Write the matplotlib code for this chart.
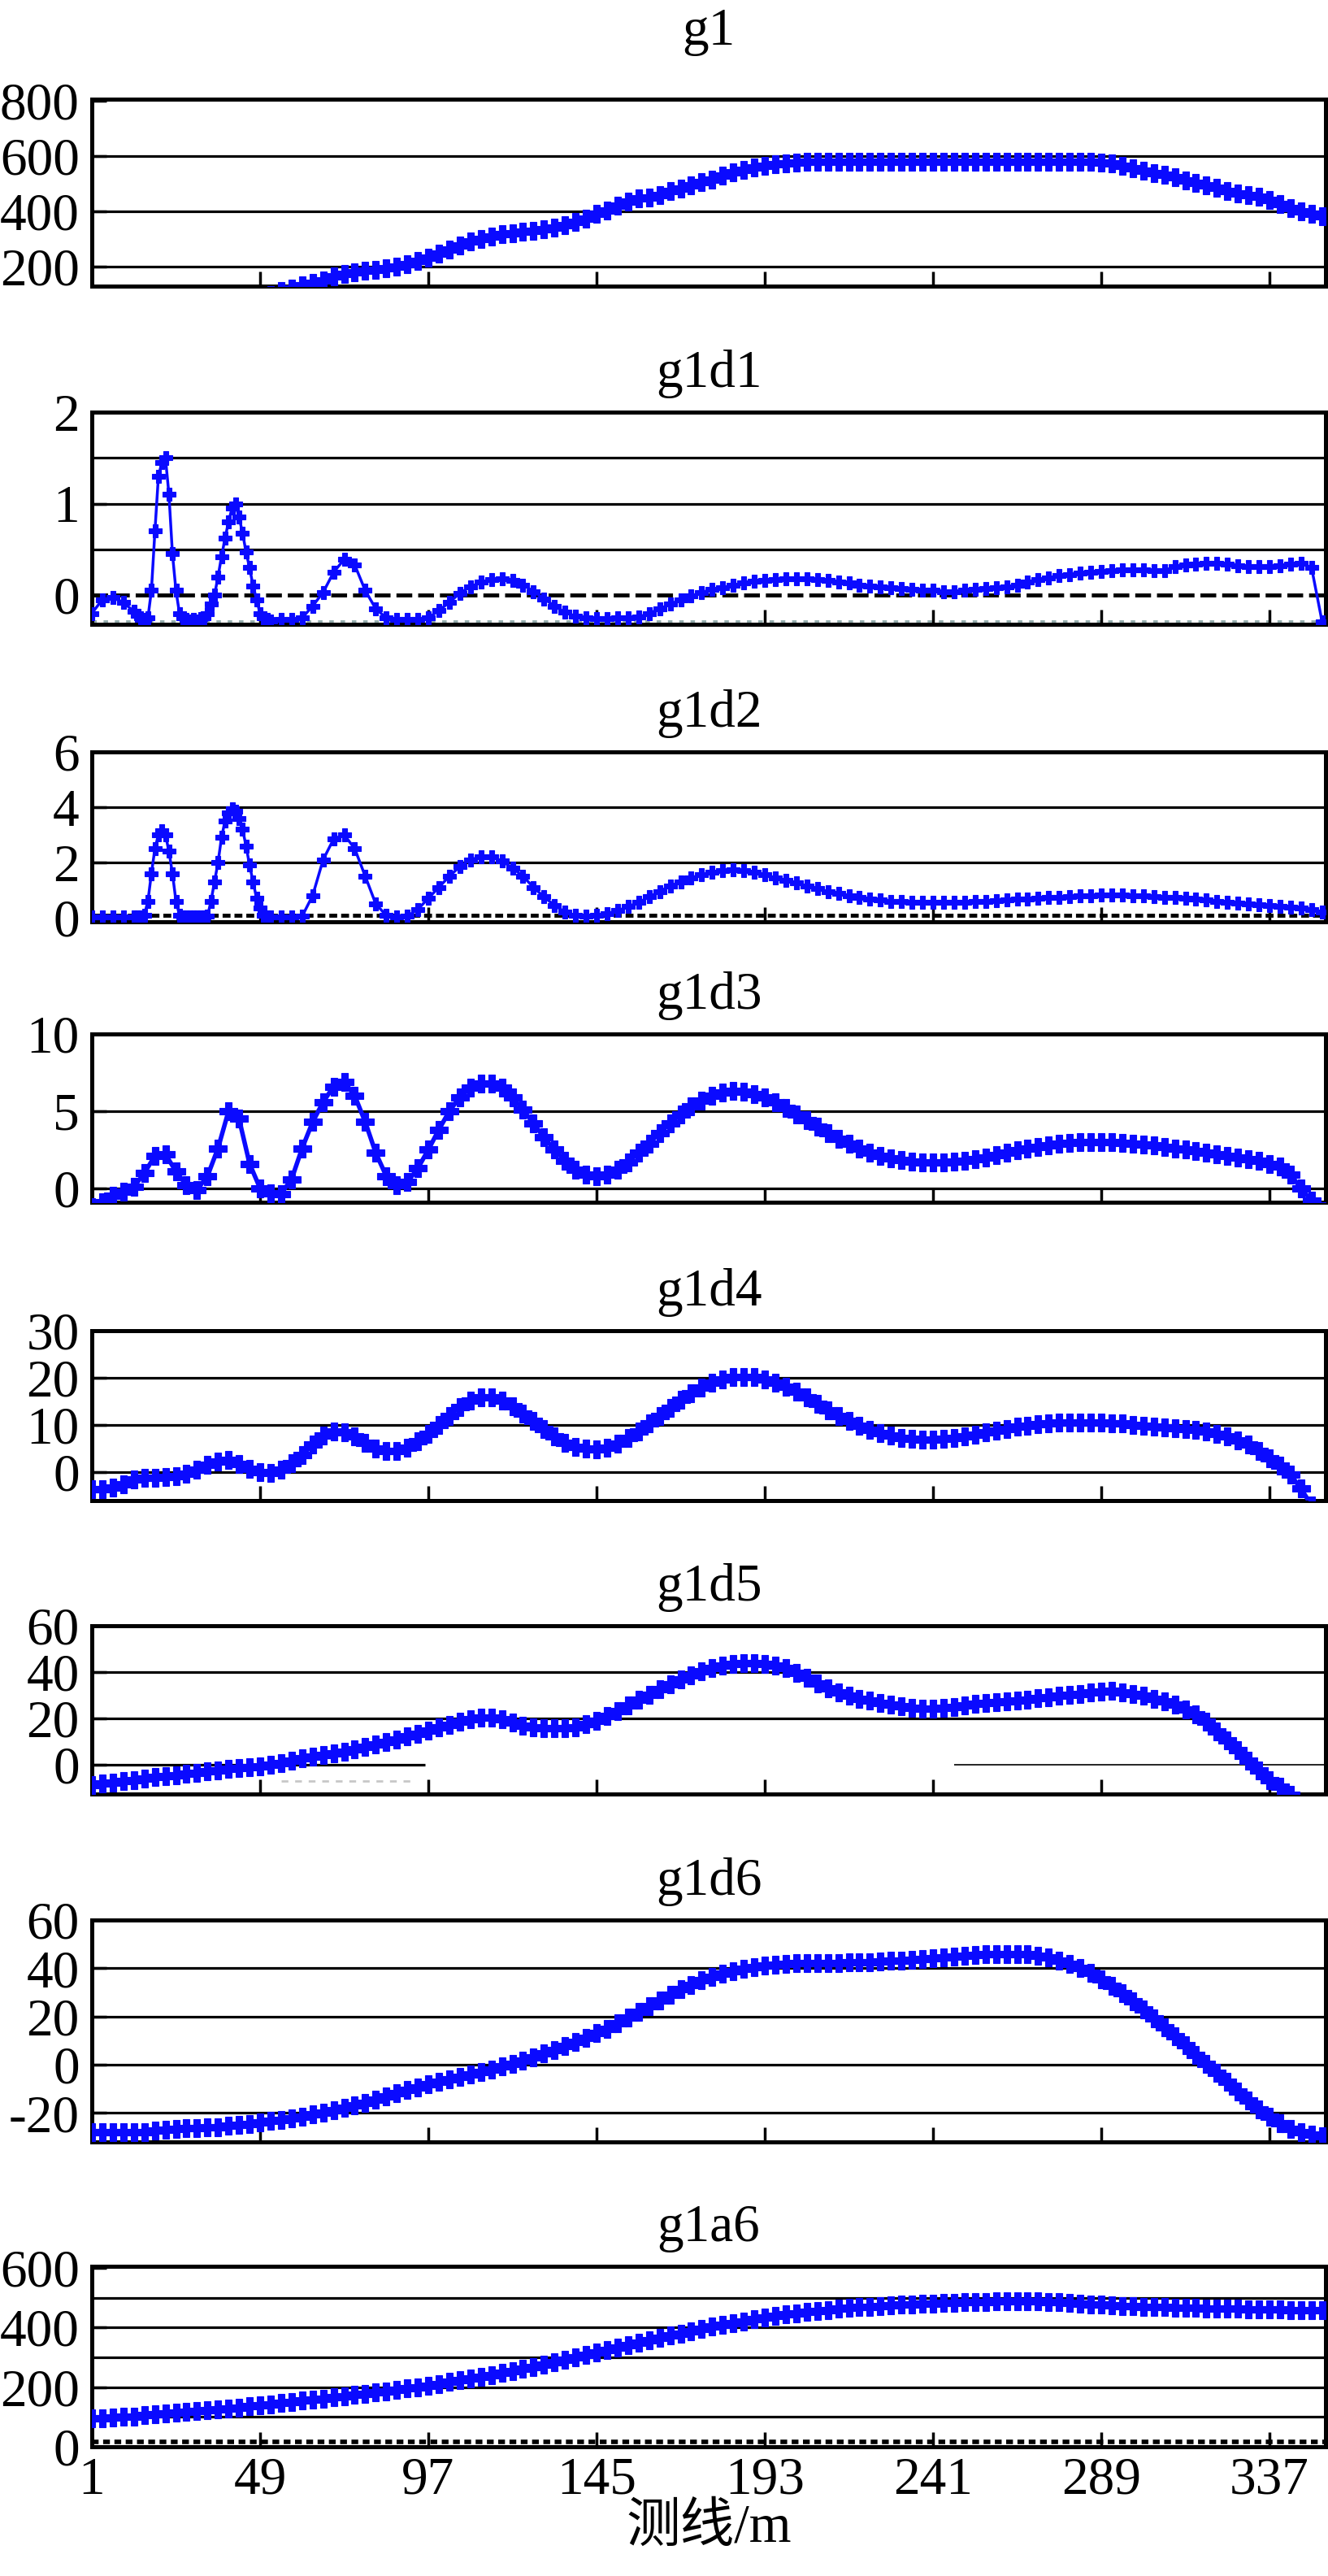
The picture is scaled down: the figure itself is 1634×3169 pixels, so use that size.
import numpy as np
import matplotlib
matplotlib.use('Agg')
import matplotlib.pyplot as plt

plt.rcParams['font.family'] = ['Liberation Serif', 'Noto Sans CJK SC']
plt.rcParams['axes.unicode_minus'] = False

# survey line positions (m)
x3 = list(range(1, 353, 3))
# finer sampling where the first two derivatives have sharp peaks
x_pk = list(range(1, 14, 3)) + list(range(14, 53)) + list(range(55, 353, 3))

g1 = [20, 24, 28, 32, 36, 40, 44, 48, 52, 56,
      60, 64, 68, 72, 76, 80, 85, 98, 112, 122,
      132, 142, 152, 165, 174, 180, 185, 190, 195, 200,
      208, 220, 233, 248, 263, 278, 290, 300, 309, 317,
      322, 327, 331, 336, 342, 350, 362, 375, 390, 404,
      420, 435, 447, 451, 460, 472, 483, 495, 505, 515,
      528, 540, 550, 558, 564, 570, 573, 576, 578, 579,
      579, 579, 579, 579, 579, 579, 579, 579, 579, 579,
      579, 579, 579, 579, 579, 579, 579, 579, 579, 579,
      579, 579, 579, 579, 579, 578, 576, 572, 564, 556,
      548, 539, 532, 522, 512, 502, 493, 484, 474, 465,
      458, 452, 440, 426, 412, 401, 392, 381]

g1d1 = [-0.2, -0.05, -0.03, -0.08, -0.18,
        -0.22, -0.25, -0.27, -0.25, 0.05, 0.7, 1.3, 1.45, 1.5, 1.1,
        0.45, 0.05, -0.2, -0.25, -0.27, -0.28, -0.27, -0.28, -0.26, -0.25,
        -0.2, -0.1, 0.0, 0.2, 0.42, 0.62, 0.8, 0.95, 1.0, 0.85,
        0.68, 0.47, 0.3, 0.1, -0.05, -0.2, -0.25, -0.27, -0.28,
        -0.27, -0.27, -0.25, -0.12, 0.03, 0.25, 0.39, 0.33, 0.05, -0.15,
        -0.25, -0.27, -0.27, -0.27, -0.25, -0.17, -0.08, 0.02, 0.09, 0.14,
        0.17, 0.18, 0.16, 0.11, 0.04, -0.04, -0.12, -0.19, -0.23, -0.25,
        -0.26, -0.26, -0.25, -0.25, -0.24, -0.2, -0.15, -0.1, -0.05, -0.01,
        0.03, 0.06, 0.08, 0.11, 0.13, 0.15, 0.16, 0.17, 0.18, 0.18,
        0.18, 0.17, 0.16, 0.14, 0.13, 0.11, 0.1, 0.09, 0.08, 0.07,
        0.06, 0.05, 0.05, 0.04, 0.04, 0.05, 0.06, 0.07, 0.08, 0.09,
        0.11, 0.14, 0.17, 0.19, 0.21, 0.22, 0.24, 0.25, 0.26, 0.27,
        0.28, 0.28, 0.28, 0.27, 0.27, 0.31, 0.33, 0.34, 0.35, 0.35,
        0.34, 0.32, 0.31, 0.31, 0.31, 0.32, 0.34, 0.35, 0.3, -0.29]

g1d2 = [0.02, 0.02, 0.02, 0.02, 0.02,
        0.02, 0.02, 0.1, 0.6, 1.6, 2.5, 3.0, 3.15, 3.0, 2.4,
        1.6, 0.6, 0.1, 0.02, 0.02, 0.02, 0.02, 0.02, 0.02, 0.02,
        0.05, 0.6, 1.3, 2.0, 2.9, 3.5, 3.8, 3.95, 3.85, 3.6,
        3.2, 2.6, 1.9, 1.3, 0.7, 0.35, 0.08, 0.02, 0.02,
        0.02, 0.02, 0.05, 0.8, 2.1, 2.85, 3.0, 2.5, 1.5, 0.5,
        0.08, 0.02, 0.05, 0.3, 0.7, 1.1, 1.5, 1.85, 2.1, 2.2,
        2.2, 2.05, 1.8, 1.5, 1.1, 0.75, 0.45, 0.2, 0.08, 0.05,
        0.08, 0.15, 0.25, 0.4, 0.55, 0.75, 0.95, 1.15, 1.3, 1.45,
        1.55, 1.65, 1.7, 1.72, 1.7, 1.65, 1.55, 1.45, 1.35, 1.25,
        1.15, 1.05, 0.95, 0.88, 0.8, 0.73, 0.68, 0.64, 0.6, 0.58,
        0.56, 0.55, 0.55, 0.55, 0.56, 0.57, 0.58, 0.6, 0.62, 0.64,
        0.66, 0.68, 0.7, 0.72, 0.74, 0.76, 0.78, 0.8, 0.82, 0.82,
        0.81, 0.8, 0.78, 0.76, 0.74, 0.72, 0.7, 0.67, 0.64, 0.6,
        0.57, 0.53, 0.5, 0.47, 0.44, 0.41, 0.38, 0.35, 0.3, 0.2]

g1d3 = [-1.2, -0.9, -0.5, -0.2, 0.1, 1.0, 2.1, 2.2, 1.1, 0.2,
        -0.1, 0.8, 2.6, 5.0, 4.5, 1.6, 0.0, -0.3, -0.35, 0.6,
        2.6, 4.3, 5.6, 6.6, 6.9, 6.0, 4.3, 2.3, 0.8, 0.2,
        0.4, 1.3, 2.5, 3.8, 5.0, 5.9, 6.5, 6.8, 6.8, 6.5,
        5.9, 5.1, 4.2, 3.3, 2.5, 1.8, 1.2, 0.9, 0.8, 0.9,
        1.2, 1.7, 2.3, 2.9, 3.6, 4.2, 4.8, 5.3, 5.7, 6.0,
        6.2, 6.3, 6.25, 6.1, 5.9, 5.6, 5.2, 4.8, 4.4, 4.0,
        3.6, 3.2, 2.9, 2.6, 2.3, 2.1, 1.95, 1.85, 1.75, 1.7,
        1.7, 1.7, 1.75, 1.8, 1.9, 2.0, 2.15, 2.3, 2.45, 2.6,
        2.7, 2.8, 2.9, 2.95, 3.0, 3.0, 3.0, 3.0, 2.95, 2.9,
        2.85, 2.8, 2.7, 2.6, 2.5, 2.4, 2.3, 2.2, 2.1, 2.0,
        1.9, 1.8, 1.6, 1.4, 0.9, 0.0, -0.8, -1.5]

g1d4 = [-3.6, -3.6, -3.3, -2.5, -1.5, -1.2, -1.1, -1.0, -0.8, -0.4,
        0.5, 1.5, 2.3, 2.6, 1.8, 0.8, 0.0, -0.2, 0.6, 2.0,
        3.6, 5.8, 7.8, 8.6, 8.5, 7.6, 6.3, 5.1, 4.5, 4.5,
        5.2, 6.5, 8.2, 10.0, 12.0, 13.8, 15.2, 15.9, 15.9, 15.2,
        14.0, 12.5, 10.8, 9.1, 7.6, 6.3, 5.4, 5.0, 4.9, 5.2,
        6.0, 7.2, 8.7, 10.3, 12.0, 13.7, 15.3, 16.8, 18.0, 19.0,
        19.7, 20.1, 20.2, 20.1, 19.7, 19.0, 18.1, 17.0, 15.8, 14.5,
        13.2, 12.0, 10.9, 9.9, 9.0, 8.3, 7.7, 7.3, 7.1, 7.0,
        7.0, 7.1, 7.3, 7.6, 8.0, 8.4, 8.8, 9.2, 9.6, 9.9,
        10.2, 10.4, 10.5, 10.6, 10.6, 10.6, 10.5, 10.4, 10.3, 10.1,
        9.9, 9.7, 9.5, 9.3, 9.1, 8.9, 8.6, 8.2, 7.6, 6.8,
        5.8, 4.5, 3.0, 1.4, -0.5, -3.5, -7.0, -11.0]

g1d5 = [-8.8, -8.2, -7.6, -7.0, -6.5, -6.0, -5.4, -4.9, -4.4, -3.8,
        -3.4, -2.9, -2.4, -1.9, -1.5, -1.1, -0.6, 0.1, 0.9, 1.8,
        2.7, 3.5, 4.3, 5.0, 5.8, 6.7, 7.7, 8.8, 9.9, 11.0,
        12.2, 13.4, 14.7, 16.0, 17.3, 18.6, 19.8, 20.5, 20.5, 19.5,
        18.2, 17.0, 16.3, 15.9, 15.7, 15.8, 16.3, 17.4, 19.0, 21.0,
        23.2, 25.6, 28.0, 30.3, 32.5, 34.7, 36.7, 38.6, 40.3, 41.7,
        42.8, 43.6, 44.0, 44.0, 43.6, 42.8, 41.6, 39.8, 37.5, 35.0,
        33.0, 31.3, 29.8, 28.6, 27.6, 26.8, 26.0, 25.3, 24.7, 24.3,
        24.2, 24.5, 25.1, 25.8, 26.4, 26.8, 27.0, 27.3, 27.7, 28.2,
        28.7, 29.2, 29.7, 30.2, 30.7, 31.2, 31.6, 31.8, 31.4, 30.6,
        29.7, 28.6, 27.4, 26.0, 24.0, 21.6, 18.5, 14.5, 10.5, 6.3,
        1.7, -2.6, -6.5, -9.5, -13.0, -17.0, -21.0, -25.0]

g1d6 = [-28.0, -28.0, -28.0, -28.0, -28.0, -27.8, -27.4, -27.0, -26.6, -26.4,
        -26.2, -26.0, -25.8, -25.4, -25.0, -24.5, -24.0, -23.4, -22.8, -22.2,
        -21.5, -20.6, -19.7, -18.8, -17.8, -16.8, -15.7, -14.5, -13.2, -11.9,
        -10.6, -9.3, -8.0, -7.0, -6.0, -5.0, -4.0, -3.0, -2.0, -0.8,
        0.4, 1.7, 3.1, 4.6, 6.2, 7.9, 9.6, 11.3, 13.0, 15.0,
        17.2, 19.5, 21.9, 24.3, 26.7, 29.0, 31.2, 33.2, 35.0, 36.5,
        37.8, 38.9, 39.8, 40.5, 41.1, 41.5, 41.8, 42.0, 42.1, 42.2,
        42.3, 42.3, 42.4, 42.5, 42.6, 42.8, 43.0, 43.2, 43.5, 43.8,
        44.1, 44.4, 44.8, 45.1, 45.4, 45.7, 45.9, 46.0, 46.0, 45.7,
        45.2, 44.4, 43.3, 41.9, 40.2, 38.0, 35.5, 32.7, 29.6, 26.3,
        22.8, 19.2, 15.5, 11.8, 8.0, 4.2, 0.4, -3.4, -7.2, -11.0,
        -14.8, -18.4, -21.6, -24.3, -26.5, -28.0, -29.0, -29.5]

g1a6 = [95, 96, 98, 100, 102, 105, 108, 111, 114, 117,
        120, 123, 126, 129, 132, 135, 138, 142, 146, 150,
        154, 158, 162, 166, 170, 174, 178, 182, 186, 190,
        195, 200, 205, 211, 217, 223, 229, 235, 241, 247,
        254, 261, 268, 276, 284, 292, 300, 308, 316, 324,
        332, 340, 348, 356, 364, 372, 380, 388, 395, 402,
        409, 415, 421, 427, 433, 438, 443, 448, 452, 456,
        459, 462, 465, 468, 470, 472, 474, 476, 478, 479,
        480, 482, 483, 484, 485, 486, 487, 488, 488, 488,
        487, 486, 484, 482, 480, 478, 476, 474, 472, 471,
        470, 469, 468, 467, 466, 465, 464, 463, 462, 462,
        461, 461, 460, 460, 459, 459, 458, 458]

titles = ['g1', 'g1d1', 'g1d2', 'g1d3', 'g1d4', 'g1d5', 'g1d6', 'g1a6']
xs = [x3, x_pk, x_pk, x3, x3, x3, x3, x3]
ys = [g1, g1d1, g1d2, g1d3, g1d4, g1d5, g1d6, g1a6]
ylims = [(130, 805), (-0.32, 2.0), (-0.15, 6.0), (-0.9, 10.0),
         (-6, 30), (-12.6, 60), (-32, 60), (0, 605)]
yticks = [[200, 400, 600, 800], [0, 1, 2], [0, 2, 4, 6], [0, 5, 10],
          [0, 10, 20, 30], [0, 20, 40, 60], [-20, 0, 20, 40, 60], [0, 200, 400, 600]]
grids = [[200, 400, 600], [0.5, 1, 1.5], [2, 4], [0, 5],
         [0, 10, 20], [20, 40], [-20, 0, 20, 40], [100, 200, 300, 400, 500]]
xticks = [1, 49, 97, 145, 193, 241, 289, 337]

# panel top / bottom in pixels, and title offset (pt)
W, H = 1634, 3169
tops = [122, 507, 925, 1272, 1637, 2000, 2362, 2788]
bots = [352, 768, 1134, 1479, 1846, 2207, 2635, 3010]
pads = [48, 22, 22, 22, 22, 22, 22, 22]
left, right = 113, 1631

fig = plt.figure(figsize=(W / 100, H / 100), dpi=100)
blue = '#0a0aff'
fs = 47

for i in range(8):
    ax = fig.add_axes([left / W, 1 - bots[i] / H, (right - left) / W, (bots[i] - tops[i]) / H])
    for g in grids[i]:
        ax.axhline(g, color='black', lw=2.3, zorder=1)
    if i == 1:
        ax.axhline(0, color='black', lw=3.5, ls=(0, (4, 1.5)), zorder=1)
        ax.axhline(-0.28, color='#8fa8a8', lw=2, ls=(0, (2, 3)), zorder=1)
    if i == 2:
        ax.axhline(0.1, color='black', lw=3.5, ls=(0, (2, 1)), zorder=1)
    if i == 5:
        ax.hlines(0, 1, 96, color='black', lw=2.3, zorder=1)
        ax.hlines(0, 247, 353, color='black', lw=1.2, zorder=1)
        ax.hlines(-7, 55, 93, color='#c8c8c8', lw=2, ls=(0, (3, 3)), zorder=1)
    if i == 7:
        ax.axhline(15, color='black', lw=4, ls=(0, (1.5, 1)), zorder=1)
    sparse = i in (1, 2)
    ax.plot(xs[i], ys[i], color=blue, lw=2.5 if sparse else 4, marker='P',
            markersize=12 if sparse else 16, markeredgewidth=0.8,
            markeredgecolor=blue, zorder=3)
    ax.set_xlim(1, 353)
    ax.set_ylim(*ylims[i])
    ax.set_yticks(yticks[i])
    ax.set_yticklabels([str(v) for v in yticks[i]], fontsize=fs)
    ax.set_xticks(xticks)
    if i == 7:
        ax.set_xticklabels([str(v) for v in xticks], fontsize=fs)
        ax.set_xlabel('测线/m', fontsize=48, labelpad=-2)
    else:
        ax.set_xticklabels([])
    ax.tick_params(axis='both', direction='in', length=13, width=2.5, colors='black')
    ax.tick_params(axis='y', pad=11)
    ax.tick_params(axis='x', pad=9)
    for s in ax.spines.values():
        s.set_linewidth(3.6)
        s.set_color('black')
    ax.set_title(titles[i], fontsize=fs, pad=pads[i])

fig.savefig('out.png', dpi=100, facecolor='white')
